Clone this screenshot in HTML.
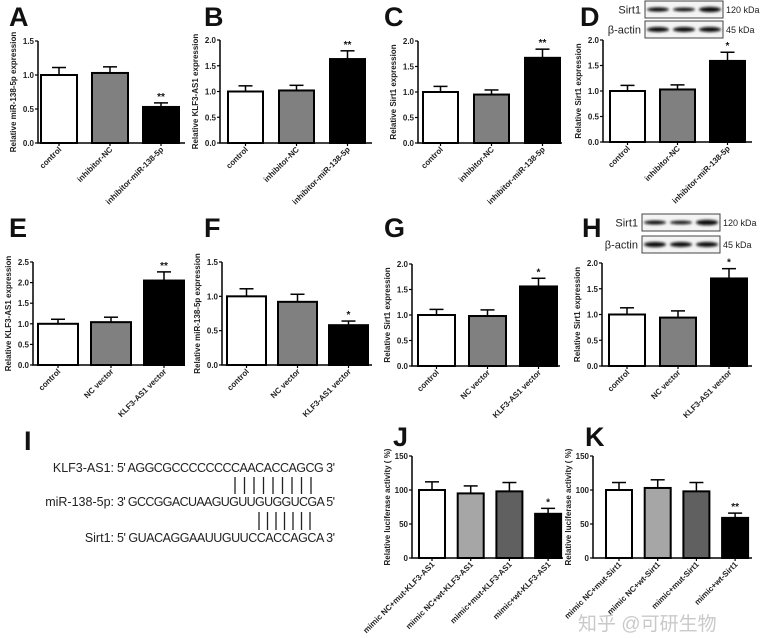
<!DOCTYPE html>
<html><head><meta charset="utf-8">
<style>
html,body{margin:0;padding:0;background:#fff;}
svg{display:block;font-family:"Liberation Sans",Arial,sans-serif;}
.lbl{font-weight:bold;font-size:27px;fill:#111;}
.tk{font-size:8px;font-weight:bold;fill:#222;}
.seq{font-size:12.5px;fill:#222;}
</style></head>
<body>
<svg id="fig" width="760" height="638" viewBox="0 0 760 638">
<defs><filter id="blur" x="-20%" y="-50%" width="140%" height="200%"><feGaussianBlur stdDeviation="1.2"/></filter></defs>
<g>
<text class="lbl" x="9" y="26">A</text>
<text class="lbl" x="204" y="26">B</text>
<text class="lbl" x="384" y="26">C</text>
<text class="lbl" x="580" y="26">D</text>
<text class="lbl" x="9" y="237">E</text>
<text class="lbl" x="204" y="237">F</text>
<text class="lbl" x="384" y="237">G</text>
<text class="lbl" x="582" y="237">H</text>
<text class="lbl" x="24" y="450">I</text>
<text class="lbl" x="393" y="446">J</text>
<text class="lbl" x="585" y="446">K</text>
</g>
<g>
<text class="seq" x="114" y="472" text-anchor="end">KLF3-AS1:</text>
<text class="seq" x="117" y="472" textLength="218">5' AGGCGCCCCCCCCAACACCAGCG 3'</text>
<text class="seq" x="114" y="506" text-anchor="end">miR-138-5p:</text>
<text class="seq" x="117" y="506" textLength="218">3' GCCGGACUAAGUGUUGUGGUCGA 5'</text>
<text class="seq" x="114" y="542" text-anchor="end">Sirt1:</text>
<text class="seq" x="117" y="542" textLength="218">5' GUACAGGAAUUGUUCCACCAGCA 3'</text>
<g id="pairs" stroke="#222" stroke-width="1.3"></g>
</g>
<g id="charts"></g>
<text x="578" y="630" font-size="19" fill="#bbb" fill-opacity="0.8" font-family="'Liberation Sans','Noto Sans CJK SC',sans-serif">知乎 @可研生物</text>
</svg>
<script>
// ---- data ----
const catsAD = ["control","inhibitor-NC","inhibitor-miR-138-5p"];
const catsEH = ["control","NC vector","KLF3-AS1 vector"];
const catsJ = ["mimic NC+mut-KLF3-AS1","mimic NC+wt-KLF3-AS1","mimic+mut-KLF3-AS1","mimic+wt-KLF3-AS1"];
const catsK = ["mimic NC+mut-Sirt1","mimic NC+wt-Sirt1","mimic+mut-Sirt1","mimic+wt-Sirt1"];
const valsA = [1.0,1.03,0.53]; const errA = [0.11,0.09,0.06];
const valsB = [1.0,1.02,1.63]; const errB = [0.11,0.10,0.16];
const valsC = [1.0,0.95,1.67]; const errC = [0.11,0.09,0.17];
const valsD = [1.0,1.03,1.59]; const errD = [0.11,0.09,0.17];
const valsE = [1.0,1.04,2.05]; const errE = [0.11,0.12,0.21];
const valsF = [1.0,0.92,0.58]; const errF = [0.11,0.11,0.06];
const valsG = [1.0,0.98,1.56]; const errG = [0.11,0.12,0.16];
const valsH = [1.0,0.94,1.70]; const errH = [0.13,0.13,0.19];
const valsJ = [100,95,98,65]; const errJ = [12,11,13,8];
const valsK = [100,103,98,59]; const errK = [11,12,13,7];
const ticks15 = ["0.0","0.5","1.0","1.5"];
const ticks20 = ["0.0","0.5","1.0","1.5","2.0"];
const ticks25 = ["0.0","0.5","1.0","1.5","2.0","2.5"];
const ticks150 = ["0","50","100","150"];
const sigA=["","","**"], sigB=["","","**"], sigC=["","","**"], sigD=["","","*"];
const sigE=["","","**"], sigF=["","","*"], sigG=["","","*"], sigH=["","","*"];
const sigJ=["","","","*"], sigK=["","","","**"];

const NS="http://www.w3.org/2000/svg";
function mk(tag,attrs,parent){const e=document.createElementNS(NS,tag);for(const k in attrs)e.setAttribute(k,attrs[k]);if(parent)parent.appendChild(e);return e;}
const col3=["#fff","#808080","#000"], col4=["#fff","#a6a6a6","#606060","#000"];
function panel(id,title,cats,vals,errs,ticks,sig,ax,top,base,x0,pitch,bw,right){
  const g=mk("g",{},document.getElementById("charts"));
  
  
  const max=parseFloat(ticks[ticks.length-1]);
  const y=v=>base-(v/max)*(base-top);
  const cols=cats.length===3?col3:col4;
  vals.forEach((v,i)=>{
    const bx=x0+i*pitch, cx=bx+bw/2, ey=y(v+errs[i]);
    const eb=mk("line",{x1:cx,x2:cx,y1:y(v),y2:ey,stroke:"#000","stroke-width":1.5},g);
    
    
    mk("line",{x1:cx-7,x2:cx+7,y1:ey,y2:ey,stroke:"#000","stroke-width":1.5},g);
    const r=mk("rect",{x:bx,y:y(v),width:bw,height:base-y(v),fill:cols[i],stroke:"#000","stroke-width":2},g);
    
    
    if(sig[i]){const s=mk("text",{x:cx,y:ey-3,"text-anchor":"middle","font-size":10,"font-weight":"bold",fill:"#111"},g);s.textContent=sig[i];
      
      }
    mk("line",{x1:cx,x2:cx,y1:base,y2:base+3,stroke:"#000","stroke-width":1.2},g);
    const t=mk("text",{class:"tk","text-anchor":"end",transform:`translate(${cx+3},${base+7}) rotate(-45)`},g);
    t.textContent=cats[i];
    
    
  });
  const axl=mk("path",{d:`M${ax},${top}V${base}H${right}`,fill:"none",stroke:"#000","stroke-width":1.5},g);
  
  
  ticks.forEach(tv=>{const yy=y(parseFloat(tv));
    mk("line",{x1:ax-3,x2:ax,y1:yy,y2:yy,stroke:"#000","stroke-width":1.2},g);
    const t=mk("text",{class:"tk",x:ax-4,y:yy+3,"text-anchor":"end"},g);t.textContent=tv;
    
    });
  const yt=mk("text",{class:"tk","text-anchor":"middle",transform:`translate(${ax-22},${(top+base)/2}) rotate(-90)`},g);
  yt.textContent=title;
  
  
}
panel("a","Relative miR-138-5p expression",catsAD,valsA,errA,ticks15,sigA,38,41,143,41,51,36,185);
panel("b","Relative KLF3-AS1 expression",catsAD,valsB,errB,ticks20,sigB,220,40,143,228,51,35,372);
panel("c","Relative Sirt1 expression",catsAD,valsC,errC,ticks20,sigC,418,41,143,423,51,35,562);
panel("d","Relative Sirt1 expression",catsAD,valsD,errD,ticks20,sigD,603,40,142,610,50,35,752);
panel("e","Relative KLF3-AS1 expression",catsEH,valsE,errE,ticks25,sigE,33,262,365,38,53,40,182);
panel("f","Relative miR-138-5p expression",catsEH,valsF,errF,ticks15,sigF,222,262,365,227,51,39,372);
panel("g","Relative Sirt1 expression",catsEH,valsG,errG,ticks20,sigG,412,264,366,418,51,37,560);
panel("h","Relative Sirt1 expression",catsEH,valsH,errH,ticks20,sigH,602,263,366,609,51,36,752);
panel("j","Relative luciferase activity ( %)",catsJ,valsJ,errJ,ticks150,sigJ,412,456,558,419,38.7,26,563);
panel("k","Relative luciferase activity ( %)",catsK,valsK,errK,ticks150,sigK,593,456,558,606,38.7,26,752);

// western blots
const bandSirtD=[3.2,2.8,4.2], bandActD=[4,4,4];
const bandSirtH=[3.0,2.6,4.6], bandActH=[4.2,4,4];
function blot(id,x,y1,y2,h,sirt,act){
  const g=mk("g",{},document.getElementById("charts"));
  
  
  [[y1,sirt,"Sirt1","120 kDa"],[y2,act,"β-actin","45 kDa"]].forEach(([yy,b,n,k])=>{
    mk("rect",{x:x,y:yy,width:78,height:h,fill:"#f4f4f4",stroke:"#444","stroke-width":1},g);
    b.forEach((w,i)=>{const e=mk("ellipse",{cx:x+13+i*26,cy:yy+h/2,rx:11,ry:w/2+0.5,fill:"#111",filter:"url(#blur)"},g);
      
      });
    const t=mk("text",{x:x-4,y:yy+h/2+4,"text-anchor":"end","font-size":11,fill:"#222"},g);t.textContent=n;
    const t2=mk("text",{x:x+81,y:yy+h/2+3.5,"font-size":9,fill:"#222"},g);t2.textContent=k;
  });
}
blot("d",645,1,21,17,bandSirtD,bandActD);
blot("h",642,214,236,17,bandSirtH,bandActH);

// base-pair lines
const pg=document.getElementById("pairs");
for(let i=0;i<9;i++){mk("line",{x1:235+i*9.5,x2:235+i*9.5,y1:477,y2:494},pg);}
for(let i=0;i<7;i++){mk("line",{x1:259+i*8.5,x2:259+i*8.5,y1:512,y2:530},pg);}
</script>
</body></html>
